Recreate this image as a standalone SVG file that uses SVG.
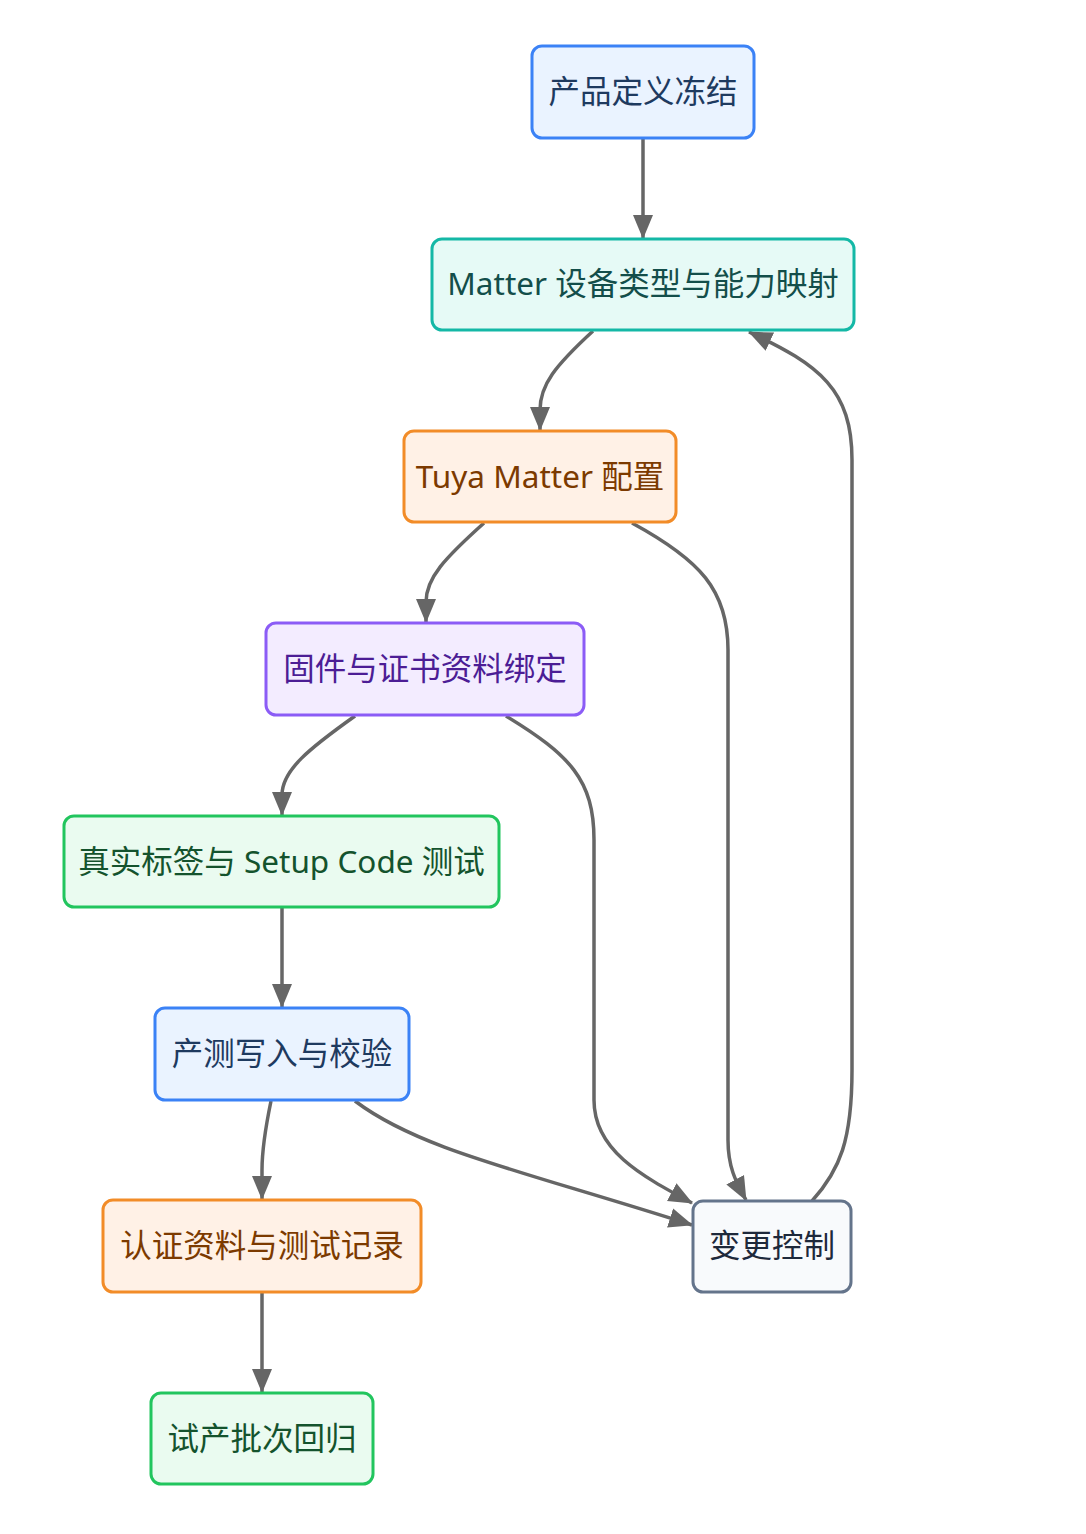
<svg xmlns="http://www.w3.org/2000/svg" width="1086" height="1534" viewBox="0 0 1086 1534">
<style>
.n rect{stroke-width:3}
.n text{font-family:"Noto Sans","Noto Sans CJK SC",sans-serif;font-size:31.5px;text-anchor:middle;dominant-baseline:central}
.blue rect{fill:#eaf3ff;stroke:#3b82f6}.blue text{fill:#1e3a5f}
.teal rect{fill:#e6faf6;stroke:#14b8a6}.teal text{fill:#134e4a}
.orange rect{fill:#fff1e6;stroke:#f28c28}.orange text{fill:#7c3a00}
.purple rect{fill:#f3ecff;stroke:#8b5cf6}.purple text{fill:#4c1d95}
.green rect{fill:#eafbf0;stroke:#22c55e}.green text{fill:#14532d}
.slate rect{fill:#f8fafc;stroke:#64748b}.slate text{fill:#1e293b}
#edges path{fill:none;stroke:#666;stroke-width:3.5;marker-end:url(#arr)}
</style>
<defs>
<marker id="arr" markerUnits="userSpaceOnUse" markerWidth="24" markerHeight="22" viewBox="0 0 24 22" refX="23" refY="11" orient="auto">
<path d="M0,1 L24,11 L0,21 z" fill="#666"/>
</marker>
</defs>
<rect width="1086" height="1534" fill="#fff"/>
<g id="edges">
<path d="M643,138 L643,238"/>
<path d="M593,331 C555,366 540,385 540,410 L540,430"/>
<path d="M484,523 C445,558 426,578 426,602 L426,622"/>
<path d="M355,716 C310,748 282,770 282,795 L282,815"/>
<path d="M282,908 L282,1007"/>
<path d="M271,1101 C265,1130 262,1150 262,1170 L262,1199"/>
<path d="M262,1293 L262,1392"/>
<path d="M632,523 C700,560 728,590 728,650 L728,1140 C728,1170 738,1185 746,1200"/>
<path d="M506,716 C570,755 594,780 594,840 L594,1100 C594,1150 640,1175 692,1203"/>
<path d="M355,1101 C420,1150 520,1170 692,1225"/>
<path d="M812,1201 C840,1170 852,1140 852,1070 L852,460 C852,390 820,365 749,332"/>
</g>
<g id="n1" class="n blue"><rect x="532" y="46" width="222" height="92" rx="10"/><text x="643" y="90">产品定义冻结</text></g>
<g id="n2" class="n teal"><rect x="432" y="239" width="422" height="91" rx="10"/><text x="643" y="282">Matter 设备类型与能力映射</text></g>
<g id="n3" class="n orange"><rect x="404" y="431" width="272" height="91" rx="10"/><text x="540" y="475">Tuya Matter 配置</text></g>
<g id="n4" class="n purple"><rect x="266" y="623" width="318" height="92" rx="10"/><text x="425" y="667">固件与证书资料绑定</text></g>
<g id="n5" class="n green"><rect x="64" y="816" width="435" height="91" rx="10"/><text x="281.5" y="860">真实标签与 Setup Code 测试</text></g>
<g id="n6" class="n blue"><rect x="155" y="1008" width="254" height="92" rx="10"/><text x="282" y="1052">产测写入与校验</text></g>
<g id="n7" class="n orange"><rect x="103" y="1200" width="318" height="92" rx="10"/><text x="262" y="1244">认证资料与测试记录</text></g>
<g id="n8" class="n green"><rect x="151" y="1393" width="222" height="91" rx="10"/><text x="262" y="1437">试产批次回归</text></g>
<g id="n9" class="n slate"><rect x="693" y="1201" width="158" height="91" rx="10"/><text x="772" y="1244">变更控制</text></g>
</svg>
